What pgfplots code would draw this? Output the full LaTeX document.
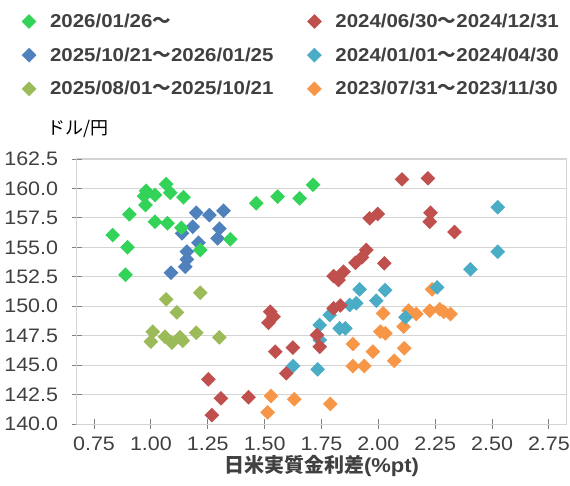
\documentclass[border=0pt]{standalone}
\usepackage{pgfplots}
\pgfplotsset{compat=1.18}
\usepackage{fontspec}
\setmainfont[FakeStretch=1.1]{Liberation Sans}
\newfontfamily\cjk{Noto Sans CJK JP}
\definecolor{cgreen}{HTML}{33D35A}
\definecolor{cblue}{HTML}{4F81BD}
\definecolor{colive}{HTML}{9BBB59}
\definecolor{cred}{HTML}{C0504D}
\definecolor{ccyan}{HTML}{4BACC6}
\definecolor{corange}{HTML}{F79646}
\definecolor{ctext}{HTML}{404040}
\definecolor{cgrid}{HTML}{D4D4D4}
\definecolor{ctick}{HTML}{808080}
\pgfdeclareplotmark{sqdiamond}{%
  \pgfpathmoveto{\pgfqpoint{0pt}{1.414\pgfplotmarksize}}%
  \pgfpathlineto{\pgfqpoint{1.414\pgfplotmarksize}{0pt}}%
  \pgfpathlineto{\pgfqpoint{0pt}{-1.414\pgfplotmarksize}}%
  \pgfpathlineto{\pgfqpoint{-1.414\pgfplotmarksize}{0pt}}%
  \pgfpathclose\pgfusepathqfill}
\begin{document}
\begin{tikzpicture}[x=1pt,y=1pt]
\useasboundingbox (0,0) rectangle (570,485);
\begin{axis}[
  at={(77pt,61pt)}, anchor=south west,
  width=489pt, height=265pt, scale only axis,
  xmin=0.675, xmax=2.825, ymin=140, ymax=162.5,
  xtick={0.75,1,1.25,1.5,1.75,2,2.25,2.5,2.75},
  ytick={140,142.5,145,147.5,150,152.5,155,157.5,160,162.5},
  xtick pos=bottom, ytick pos=left,
  tick align=center, major tick length=9.5pt,
  tick style={color=ctick, line width=0.9pt},
  ymajorgrids, grid style={color=cgrid, line width=0.9pt},
  axis line style={color=cgrid, line width=1pt},
  /pgf/number format/assume math mode=true,
  ticklabel style={font=\fontsize{19.5}{20}\selectfont, text=ctext},
  x tick label style={/pgf/number format/.cd, fixed, fixed zerofill, precision=2, /tikz/.cd, anchor=north, inner sep=0pt, yshift=-8pt},
  y tick label style={/pgf/number format/.cd, fixed, fixed zerofill, precision=1, /tikz/.cd, anchor=east, inner sep=0pt, xshift=-14pt},
  xlabel={{\cjk\bfseries 日米実質金利差}{\bfseries(\%pt)}},
  every axis x label/.style={at={(axis description cs:0.5,-0.1585)}, anchor=center, font=\fontsize{20}{22}\selectfont, text=ctext},
  ylabel={{\cjk ドル/円}},
  every axis y label/.style={at={(axis description cs:0.002,1.113)}, anchor=center, font=\fontsize{18}{20}\selectfont, text=black},
  legend columns=2,
  legend style={at={(axis description cs:-0.1196,1.563)}, anchor=north west, draw=none, fill=none,
    font=\fontsize{18.6}{20}\selectfont\bfseries, text=ctext,
    row sep=14.7pt, cells={anchor=west}},
  legend image code/.code={\draw[#1] plot coordinates {(0pt,0pt)}; \path[draw=none,fill=none] (-7.35pt,0pt) (19pt,0pt);},
]
\addlegendimage{only marks, mark=sqdiamond, mark size=5.2pt, color=cgreen}
\addlegendentry{\makebox[255pt][l]{2026/01/26{\cjk ～}}}
\addlegendimage{only marks, mark=sqdiamond, mark size=5.2pt, color=cred}
\addlegendentry{2024/06/30{\cjk ～}2024/12/31}
\addlegendimage{only marks, mark=sqdiamond, mark size=5.2pt, color=cblue}
\addlegendentry{\makebox[255pt][l]{2025/10/21{\cjk ～}2026/01/25}}
\addlegendimage{only marks, mark=sqdiamond, mark size=5.2pt, color=ccyan}
\addlegendentry{2024/01/01{\cjk ～}2024/04/30}
\addlegendimage{only marks, mark=sqdiamond, mark size=5.2pt, color=colive}
\addlegendentry{\makebox[255pt][l]{2025/08/01{\cjk ～}2025/10/21}}
\addlegendimage{only marks, mark=sqdiamond, mark size=5.2pt, color=corange}
\addlegendentry{2023/07/31{\cjk ～}2023/11/30}
% 2023/07/31 - 2023/11/30
\addplot[forget plot, only marks, mark=sqdiamond, mark size=5.2pt, color=corange] coordinates {
(2.236,151.43) (2.021,149.40) (2.133,149.62) (2.167,149.34) (2.226,149.62) (2.270,149.74) (2.287,149.53) (2.317,149.34)
(2.009,147.84) (2.031,147.70) (2.111,148.26) (1.888,146.79) (1.976,146.14) (2.114,146.43) (2.070,145.37) (1.888,144.92)
(1.938,144.92) (1.630,142.10) (1.789,141.70) (1.528,142.38) (1.513,140.99)};
% 2024/01/01 - 2024/04/30
\addplot[forget plot, only marks, mark=sqdiamond, mark size=5.2pt, color=ccyan] coordinates {
(2.525,158.40) (2.525,154.63) (2.405,153.13) (1.918,151.43) (2.030,151.37) (1.991,150.47) (1.874,150.10) (1.903,150.25)
(1.786,149.25) (1.742,148.40) (1.830,148.12) (1.855,148.12) (2.119,149.06) (2.258,151.60) (1.733,144.64) (1.742,147.13)
(1.625,144.92)};
% 2024/06/30 - 2024/12/31
\addplot[forget plot, only marks, mark=sqdiamond, mark size=5.2pt, color=cred] coordinates {
(1.525,149.53) (1.539,149.11) (1.517,148.60) (1.547,146.14) (1.624,146.48) (1.595,144.30) (1.253,143.79) (1.308,142.18)
(1.429,142.27) (1.268,140.76) (1.730,147.56) (1.742,146.56) (2.104,160.77) (2.218,160.86) (1.962,157.46) (1.997,157.83)
(2.229,157.94) (2.226,157.17) (2.335,156.30) (1.947,154.77) (1.928,154.15) (1.899,153.69) (2.026,153.64) (1.847,152.93)
(1.803,152.56) (1.825,152.22) (1.803,149.82) (1.833,150.06)};
% 2025/08/01 - 2025/10/21
\addplot[forget plot, only marks, mark=sqdiamond, mark size=5.2pt, color=colive] coordinates {
(1.067,150.59) (1.217,151.15) (1.114,149.48) (1.008,147.84) (1.000,146.99) (1.062,147.41) (1.092,146.90) (1.128,147.36)
(1.140,147.07) (1.199,147.75) (1.301,147.36)};
% 2025/10/21 - 2026/01/25
\addplot[forget plot, only marks, mark=sqdiamond, mark size=5.2pt, color=cblue] coordinates {
(1.199,157.94) (1.257,157.74) (1.319,158.11) (1.184,156.75) (1.137,156.19) (1.301,156.58) (1.293,155.76) (1.209,155.39)
(1.158,154.63) (1.158,153.98) (1.151,153.35) (1.088,152.84)};
% 2026/01/26 -
\addplot[forget plot, only marks, mark=sqdiamond, mark size=5.2pt, color=cgreen] coordinates {
(0.979,159.80) (0.970,159.35) (1.018,159.44) (1.067,160.37) (1.085,159.63) (0.976,158.59) (1.143,159.25) (0.905,157.80)
(1.018,157.17) (1.073,157.04) (1.134,156.66) (0.832,156.04) (0.897,155.00) (0.888,152.67) (1.217,154.77) (1.349,155.68)
(1.463,158.74) (1.557,159.30) (1.654,159.16) (1.713,160.31)};
\end{axis}
\end{tikzpicture}
\end{document}
